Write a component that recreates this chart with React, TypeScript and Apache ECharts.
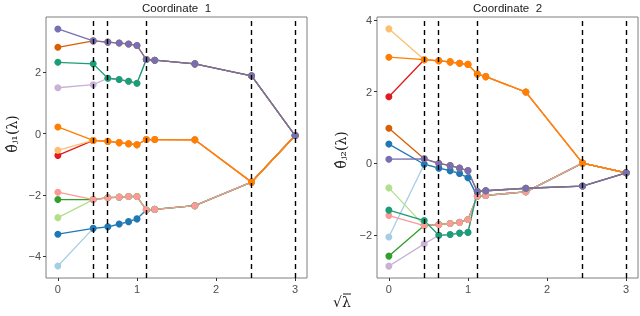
import React, { useEffect, useRef } from "react";
import * as echarts from "echarts";

const lambdaSqrt = [0, 0.447, 0.632, 0.775, 0.894, 1.0, 1.118, 1.225, 1.732, 2.449, 3.0];
const mergePoints = [0.447, 0.632, 1.118, 2.449, 3.0];

const obsNames = ["lightblue", "blue", "lightgreen", "green", "pink", "red", "lightorange", "orange", "lavender", "teal", "darkorange", "purple"];
const obsColors = ["#A6CEE3", "#1F78B4", "#B2DF8A", "#33A02C", "#FB9A99", "#E31A1C", "#FDBF6F", "#FF7F00", "#CAB2D6", "#1B9E77", "#D95F02", "#7570B3"];

const coord1 = [
  [-4.32, -3.09, -3.04, -2.95, -2.87, -2.78, -2.49, -2.47, -2.35, -1.58, -0.06],
  [-3.28, -3.09, -3.04, -2.95, -2.87, -2.78, -2.49, -2.47, -2.35, -1.58, -0.06],
  [-2.74, -2.15, -2.09, -2.07, -2.05, -2.05, -2.49, -2.47, -2.35, -1.58, -0.06],
  [-2.15, -2.15, -2.09, -2.07, -2.05, -2.05, -2.49, -2.47, -2.35, -1.58, -0.06],
  [-1.91, -2.15, -2.09, -2.07, -2.05, -2.05, -2.49, -2.47, -2.35, -1.58, -0.06],
  [-0.71, -0.22, -0.25, -0.29, -0.33, -0.36, -0.19, -0.19, -0.2, -1.58, -0.06],
  [-0.54, -0.22, -0.25, -0.29, -0.33, -0.36, -0.19, -0.19, -0.2, -1.58, -0.06],
  [0.22, -0.22, -0.25, -0.29, -0.33, -0.36, -0.19, -0.19, -0.2, -1.58, -0.06],
  [1.5, 1.6, 1.81, 1.77, 1.71, 1.65, 2.42, 2.4, 2.28, 1.89, -0.06],
  [2.33, 2.28, 1.81, 1.77, 1.71, 1.65, 2.42, 2.4, 2.28, 1.89, -0.06],
  [2.82, 3.03, 2.99, 2.96, 2.93, 2.88, 2.42, 2.4, 2.28, 1.89, -0.06],
  [3.42, 3.03, 2.99, 2.96, 2.93, 2.88, 2.42, 2.4, 2.28, 1.89, -0.06],
];

const coord2 = [
  [-2.05, -0.02, -0.13, -0.2, -0.28, -0.4, -0.91, -0.89, -0.79, 0.01, -0.26],
  [0.54, -0.02, -0.13, -0.2, -0.28, -0.4, -0.91, -0.89, -0.79, 0.01, -0.26],
  [-0.68, -1.73, -1.7, -1.67, -1.64, -1.56, -0.91, -0.89, -0.79, 0.01, -0.26],
  [-2.58, -1.73, -1.7, -1.67, -1.64, -1.56, -0.91, -0.89, -0.79, 0.01, -0.26],
  [-1.45, -1.73, -1.7, -1.67, -1.64, -1.56, -0.91, -0.89, -0.79, 0.01, -0.26],
  [1.86, 2.89, 2.86, 2.83, 2.79, 2.76, 2.49, 2.42, 1.99, 0.01, -0.26],
  [3.75, 2.89, 2.86, 2.83, 2.79, 2.76, 2.49, 2.42, 1.99, 0.01, -0.26],
  [2.96, 2.89, 2.86, 2.83, 2.79, 2.76, 2.49, 2.42, 1.99, 0.01, -0.26],
  [-2.86, -2.24, -2.0, -1.98, -1.94, -1.92, -0.78, -0.76, -0.69, -0.63, -0.26],
  [-1.3, -1.59, -2.0, -1.98, -1.94, -1.92, -0.78, -0.76, -0.69, -0.63, -0.26],
  [0.98, 0.13, 0.0, -0.06, -0.13, -0.2, -0.78, -0.76, -0.69, -0.63, -0.26],
  [0.12, 0.13, 0.0, -0.06, -0.13, -0.2, -0.78, -0.76, -0.69, -0.63, -0.26],
];

const xTicks = [0, 1, 2, 3];
const yTicks1 = [-4, -2, 0, 2];
const yTicks2 = [-2, 0, 2, 4];
const titles = ["Coordinate  1", "Coordinate  2"];

const FONT = "Liberation Sans";

export default function App() {
  const ref = useRef<HTMLDivElement>(null);
  useEffect(() => {
    if (!ref.current) return;
    const chart = echarts.init(ref.current, null, { renderer: "svg" });
    const grids = [
      { left: 46, top: 17, width: 261, height: 261 },
      { left: 377, top: 17, width: 261, height: 261 },
    ];
    const xAxis = [0, 1].map((i) => ({
      type: "value",
      gridIndex: i,
      position: "bottom",
      min: -0.15,
      max: 3.15,
      axisLine: { show: false, onZero: false },
      splitLine: { show: false },
      axisTick: { show: true, length: 3, customValues: xTicks, lineStyle: { color: "#333", width: 1 } },
      axisLabel: { customValues: xTicks, color: "#4d4d4d", fontSize: 11, fontFamily: FONT, margin: 5 },
    }));
    const yRanges = [
      [-4.71, 3.81, yTicks1],
      [-3.19, 4.08, yTicks2],
    ] as const;
    const yAxis = [0, 1].map((i) => ({
      type: "value",
      gridIndex: i,
      position: "left",
      min: yRanges[i][0],
      max: yRanges[i][1],
      axisLine: { show: false, onZero: false },
      splitLine: { show: false },
      axisTick: { show: true, length: 3, customValues: yRanges[i][2], lineStyle: { color: "#333", width: 1 } },
      axisLabel: {
        customValues: yRanges[i][2],
        color: "#4d4d4d",
        fontSize: 11,
        fontFamily: FONT,
        margin: 5,
        formatter: (v: number) => (v < 0 ? "\u2212" + Math.abs(v) : String(v)),
      },
    }));
    const series: any[] = [];
    [0, 1].forEach((p) => {
      series.push({
        type: "line",
        xAxisIndex: p,
        yAxisIndex: p,
        data: [],
        z: 2,
        markLine: {
          silent: true,
          symbol: ["none", "none"],
          label: { show: false },
          lineStyle: { color: "#000", type: [5, 4], width: 1.4 },
          data: mergePoints.map((v) => ({ xAxis: v })),
        },
      });
      const vals = p === 0 ? coord1 : coord2;
      vals.forEach((arr, i) => {
        series.push({
          type: "line",
          name: obsNames[i] + (p + 1),
          xAxisIndex: p,
          yAxisIndex: p,
          z: 3,
          data: lambdaSqrt.map((x, k) => [x, arr[k]]),
          symbol: "circle",
          symbolSize: 7,
          showSymbol: true,
          lineStyle: { color: obsColors[i], width: 1.3 },
          itemStyle: { color: obsColors[i] },
        });
      });
    });
    chart.setOption({
      animation: false,
      grid: grids.map((g) => ({ ...g, show: true, borderColor: "#7f7f7f", borderWidth: 1, backgroundColor: "transparent" })),
      xAxis,
      yAxis,
      series,
      graphic: [
        { type: "text", x: 176.5, y: 8, style: { text: titles[0], fontSize: 11.5, fontFamily: FONT, fill: "#1a1a1a", align: "center", verticalAlign: "middle" } },
        { type: "text", x: 507.5, y: 8, style: { text: titles[1], fontSize: 11.5, fontFamily: FONT, fill: "#1a1a1a", align: "center", verticalAlign: "middle" } },
        { type: "text", x: 12, y: 134, rotation: Math.PI / 2, style: { text: "θ̂ⱼ₁(λ)", fontSize: 14, fontFamily: "DejaVu Serif", fill: "#1a1a1a", align: "center", verticalAlign: "middle" } },
        { type: "text", x: 341, y: 150, rotation: Math.PI / 2, style: { text: "θ̂ⱼ₂(λ)", fontSize: 14, fontFamily: "DejaVu Serif", fill: "#1a1a1a", align: "center", verticalAlign: "middle" } },
        { type: "text", x: 342, y: 302, style: { text: "√λ", fontSize: 14, fontFamily: "DejaVu Serif", fill: "#1a1a1a", align: "center", verticalAlign: "middle" } },
        { type: "line", shape: { x1: 343, y1: 294, x2: 351, y2: 294 }, style: { stroke: "#1a1a1a", lineWidth: 1 } },
      ],
    });
    return () => chart.dispose();
  }, []);
  return <div ref={ref} style={{ position: "fixed", left: 0, top: 0, width: 640, height: 316 }} />;
}
